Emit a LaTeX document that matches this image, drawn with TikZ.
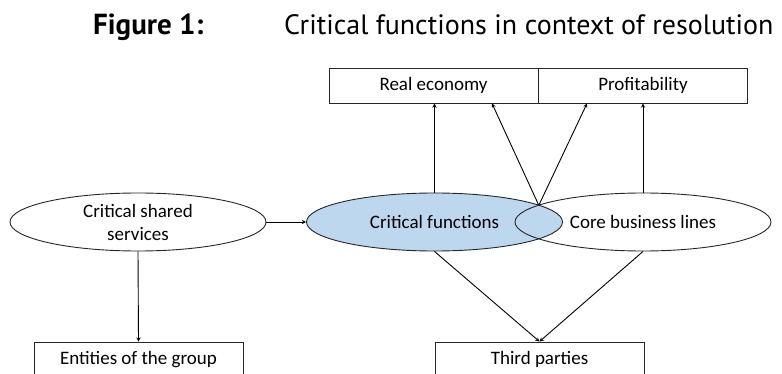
\documentclass[tikz,border=0pt]{standalone}
\usepackage{fontspec}
\setmainfont{Carlito}
\newfontfamily\titlefont{PT Sans}
\usepackage{tikz}
\usetikzlibrary{arrows,shapes}
\usetikzlibrary{positioning}
\usetikzlibrary{calc}
\definecolor{critblue}{RGB}{189,215,238}
\tikzset{
    box/.style={draw=black!85, line width=0.9pt, minimum width=209pt,
        minimum height=35pt, inner sep=0pt, font=\fontsize{19}{23}\selectfont},
    oval/.style={ellipse, draw=black!85, line width=0.9pt, minimum width=256pt,
        minimum height=58pt, inner sep=0pt, align=center,
        font=\fontsize{19}{23}\selectfont},
    link/.style={->, >=stealth, draw=black, line width=0.9pt},
    heading/.style={anchor=base west, inner sep=0pt,
        font=\titlefont\fontsize{28}{30}\selectfont},
}

\begin{document}
\begin{tikzpicture}[x=1pt,y=-1pt]
\useasboundingbox (0,0) rectangle (782,374);

\node [heading, font=\titlefont\fontsize{29}{30}\selectfont] at (93,35) (fig) {\bfseries Figure 1:};
\node [heading] at (284,35) (caption) {Critical functions in context of resolution};

\node [box] at (433.5,85.5) (real) {Real economy};
\node [box] at (643,85.5) (profit) {Profitability};

\node [oval, fill=white] at (138,222) (shared) {Critical shared\\services};
\node [oval, fill=critblue] at (434.5,222) (crit) {Critical functions};
\node [oval] at (643,222) (core) {Core business lines};

\node [box] at (138.5,359.5) (group) {Entities of the group};
\node [box] at (539.5,359.5) (third) {Third parties};

% top crossing of the two ellipses
\coordinate (lens) at (538.8,205.3);

\draw [link] (shared.east) -- (crit.west);
\draw [link] (shared.south) -- (group.north);
\draw [link] (crit.north) -- (crit.north |- real.south);
\draw [link] (core.north) -- (core.north |- profit.south);
\draw [link] (lens) -- ([xshift=58.5pt]real.south);
\draw [link] (lens) -- ([xshift=-56pt]profit.south);
\draw [link] (crit.south) -- (third.north);
\draw [link] (core.south) -- (third.north);

\end{tikzpicture}
\end{document}
